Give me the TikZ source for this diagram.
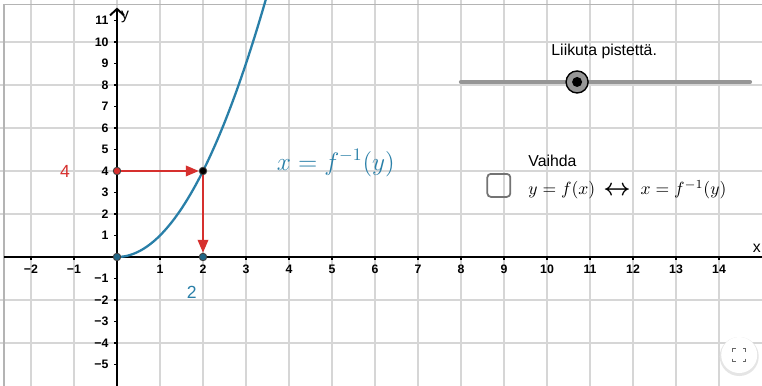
\documentclass[tikz,border=0pt]{standalone}
\usepackage{fontspec}
\setsansfont{Liberation Sans}
\definecolor{ggbblue}{RGB}{41,127,168}
\definecolor{ggbred}{RGB}{214,48,46}
\definecolor{gridgray}{RGB}{214,214,214}
\definecolor{framegray}{RGB}{180,180,180}
\definecolor{slidergray}{RGB}{150,150,150}
\usetikzlibrary{arrows.meta}

\begin{document}
\begin{tikzpicture}[
  x=0.86cm, y=0.43cm,
  gridline/.style={gridgray, line width=0.6pt},
  axis/.style={black, line width=1.1pt},
  ticklabel/.style={font=\sffamily\bfseries\fontsize{7}{8}\selectfont, inner sep=0pt},
  ggbtext/.style={font=\sffamily\fontsize{9}{11}\selectfont, inner sep=0pt},
  ggbpoint/.style={circle, draw=black!75, fill=#1, line width=0.5pt, minimum size=0.15cm, inner sep=0pt},
  redarrow/.style={-{Triangle[length=2.6mm,width=2.1mm]}, ggbred, line width=1.1pt},
  curve/.style={ggbblue, line width=1.3pt}
]
\clip (-2.7209,-6) rectangle (15,11.953);
\fill[white] (-2.7209,-6) rectangle (15,11.953);
\foreach \i in {-2,...,14}
  \draw[gridline] (\i,-6) -- (\i,11.953);
\foreach \j in {-4,-2,2,4,6,8,10}
  \draw[gridline] (-2.72,\j) -- (15,\j);
\draw[framegray, line width=0.7pt] (-2.63,-6) -- (-2.63,11.73) -- (15,11.73);

\draw[axis] (-2.63,0) -- (15,0);
\draw[axis, -{Straight Barb[length=1.3mm,width=2.8mm]}] (0,-6) -- (0,11.6);
\foreach \i in {1,...,14} {
  \draw[black, line width=0.7pt] (\i,0) -- (\i,-0.14);
  \node[ticklabel] (xt\i) at (\i,-0.56) {\i};
}
\foreach \i in {1,2} {
  \draw[black, line width=0.7pt] (-\i,0) -- (-\i,-0.14);
  \node[ticklabel] (xtm\i) at (-\i,-0.56) {−\i};
}
\foreach \j in {1,...,11} {
  \draw[black, line width=0.7pt] (0,\j) -- (-0.07,\j);
  \node[ticklabel, anchor=east] (yt\j) at (-0.19,\j) {\j};
}
\foreach \j in {1,...,5} {
  \draw[black, line width=0.7pt] (0,-\j) -- (-0.07,-\j);
  \node[ticklabel, anchor=east] (ytm\j) at (-0.19,-\j) {−\j};
}
\node[ggbtext] (xname) at (14.88,0.42) {x};
\node[ggbtext] (yname) at (0.19,11.16) {y};

\draw[curve] plot[domain=0:3.5, samples=80] (\x,{\x*\x});

\node[ggbpoint=ggbblue!80!black] (O) at (0,0) {};
\node[ggbpoint=ggbblue!80!black] (X) at (2,0) {};
\node[ggbpoint=ggbred] (Y) at (0,4) {};
\node[ggbpoint=black] (P) at (2,4) {};
\draw[redarrow] (Y) -- (P);
\draw[redarrow] (P) -- (X);

\node[ggbtext, ggbred, font=\sffamily\fontsize{10}{12}\selectfont] (ylab) at (-1.21,4) {4};
\node[ggbtext, ggbblue, font=\sffamily\fontsize{10}{12}\selectfont] (xlab) at (1.74,-1.63) {2};
\node[ggbblue, font=\fontsize{14}{16}\selectfont, inner sep=0pt] (finv) at (5.09,4.37) {$x=f^{-1}(y)$};

\coordinate (sa) at (8.0,8.14);
\coordinate (sb) at (14.72,8.14);
\draw[slidergray, line width=2.4pt, line cap=round] (sa) -- (sb);
\node[circle, draw=black, line width=0.8pt, fill=slidergray, minimum size=0.44cm, inner sep=0pt] (knob) at (10.70,8.14) {};
\fill[black] (knob) circle[radius=0.1cm];
\node[ggbtext] (slidertext) at (11.33,9.58) {Liikuta pistettä.};

\node[draw=black!55, rounded corners=2pt, line width=1pt, minimum size=0.46cm, inner sep=0pt] (box) at (8.88,3.33) {};
\node[ggbtext, anchor=west] (vaihda) at (9.56,4.48) {Vaihda};
\node[anchor=west, font=\fontsize{10.4}{13}\selectfont, inner sep=0pt] (swap) at (9.56,3.12)
  {$y=f(x)$\hspace{0.16cm}\raisebox{-0.3pt}{\scalebox{1.35}{\boldmath$\leftrightarrow$}}\hspace{0.2cm}$x=f^{-1}(y)$};

\coordinate (fs) at (14.47,-4.56);
\fill[black!10] ([yshift=-0.03cm]fs) circle[radius=0.39cm];
\fill[white] (fs) circle[radius=0.36cm];
\foreach \sx/\sy in {1/1,1/-1,-1/1,-1/-1}
  \draw[black!60, line width=0.8pt] ([shift={(\sx*0.13cm,\sy*0.07cm)}]fs) -- ++(0cm,\sy*0.06cm) -- ++(-\sx*0.06cm,0cm);
\end{tikzpicture}
\end{document}
